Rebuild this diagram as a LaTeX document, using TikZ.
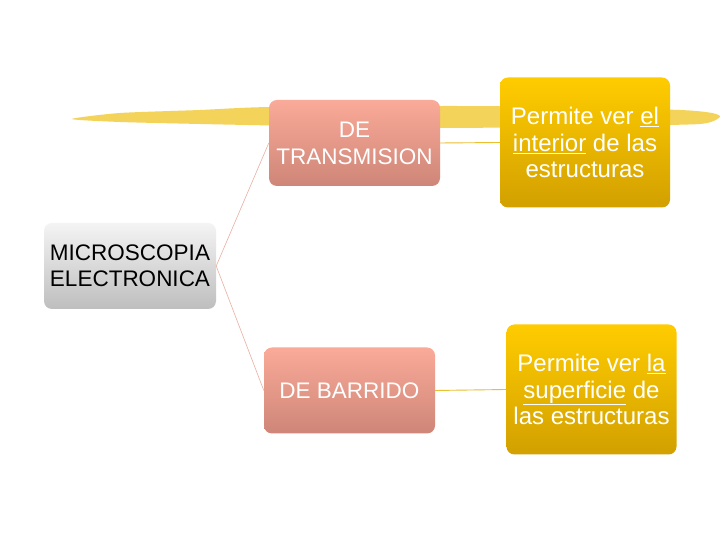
\documentclass[tikz,border=0pt]{standalone}
\usepackage{fontspec}
\setmainfont{Liberation Sans}
\usepackage{tikz}

\definecolor{brushyellow}{RGB}{240,200,48}
\definecolor{salmontop}{RGB}{250,170,152}
\definecolor{salmonbot}{RGB}{206,134,120}
\definecolor{goldtop}{RGB}{255,204,0}
\definecolor{goldbot}{RGB}{210,160,0}
\definecolor{greytop}{RGB}{244,244,244}
\definecolor{greybot}{RGB}{190,190,190}
\definecolor{linksalmon}{RGB}{232,176,160}
\definecolor{linkgold}{RGB}{232,192,48}

\begin{document}
\begin{tikzpicture}[x=1pt,y=1pt,
    rootbox/.style={rounded corners=8pt, top color=greytop, bottom color=greybot,
      minimum width=172pt, minimum height=86pt, inner sep=0pt, align=center,
      font=\fontsize{22.5}{26}\selectfont, text=black},
    kindbox/.style={rounded corners=8pt, top color=salmontop, bottom color=salmonbot,
      minimum width=171pt, minimum height=86pt, inner sep=0pt, align=center,
      font=\fontsize{22.5}{27}\selectfont, text=white},
    notebox/.style={rounded corners=8pt, top color=goldtop, bottom color=goldbot,
      minimum width=170pt, minimum height=130pt, inner sep=0pt, align=center,
      font=\fontsize{24}{26.5}\selectfont, text=white},
    kindlink/.style={draw=linksalmon, line width=0.6pt},
    notelink/.style={draw=linkgold, line width=0.9pt}]
    \useasboundingbox[fill=white] (0,0) rectangle (720,540);
    % brush stroke
    \fill[brushyellow, opacity=0.8] plot[smooth cycle, tension=0.4] coordinates {
      (72,421) (120,427) (200,430) (270,433) (450,434) (560,433) (680,430) (712,427)
      (720,423) (700,416) (600,414) (450,412) (300,414) (200,416) (120,418)};
    % boxes
    \node[rootbox] (micro) at (130,274) {MICROSCOPIA\\ELECTRONICA};
    \node[kindbox] (trans) at (354.5,397) {DE\\TRANSMISION};
    \node[kindbox] (barr) at (349.5,149.5) {DE BARRIDO};
    \node[notebox] (inter) at (585,397.5) {Permite ver \underline{el}\\\underline{interior} de las\\estructuras};
    \node[notebox] (super) at (591.5,150.5) {Permite ver \underline{la}\\\underline{superficie} de\\las estructuras};
    % links
    \draw[kindlink] (micro.east) -- (trans.west);
    \draw[kindlink] (micro.east) -- (barr.west);
    \draw[notelink] (trans.east) -- (inter.west);
    \draw[notelink] (barr.east) -- (super.west);
\end{tikzpicture}
\end{document}
